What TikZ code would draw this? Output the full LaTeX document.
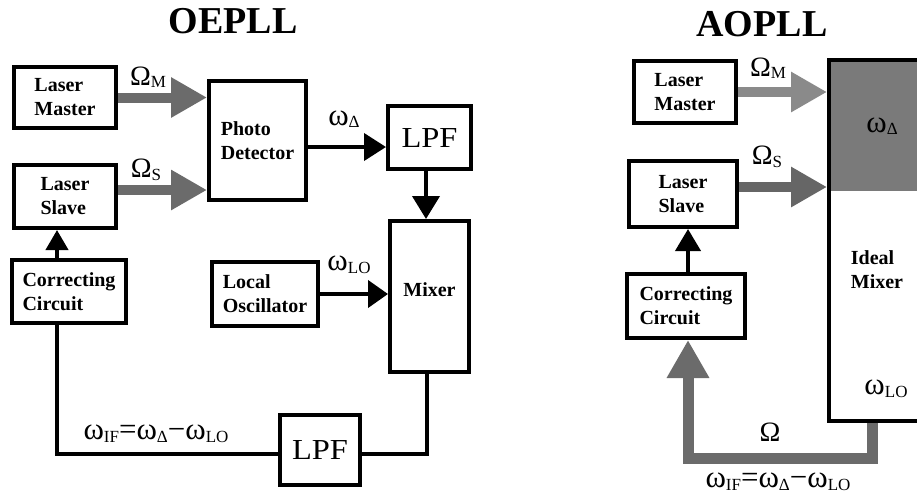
\documentclass[tikz,border=0pt]{standalone}
\usepackage{fontspec}
\setmainfont{Liberation Serif}
\newfontfamily\lpffont[FakeStretch=1.12]{Liberation Serif}
\usetikzlibrary{arrows.meta,positioning,calc,backgrounds}
\definecolor{plgray}{RGB}{107,107,107}
\definecolor{pldark}{RGB}{102,102,102}
\definecolor{pllight}{RGB}{138,138,138}
\definecolor{plfill}{RGB}{122,122,122}
\newcommand{\lsub}[1]{\raisebox{-2.5pt}{\fontsize{17}{17}\selectfont #1}}
\tikzset{
  blk/.style={
    draw=black, line width=4pt, fill=white, align=left, inner sep=0pt,
    font=\bfseries\fontsize{20}{24}\selectfont
  },
  lpf/.style={blk, font=\lpffont\fontsize{29}{29}\selectfont},
  ttl/.style={font=\bfseries\fontsize{38}{38}\selectfont, inner sep=0pt},
  sig/.style={font=\fontsize{28}{28}\selectfont, inner sep=0pt},
  wsig/.style={sig, font=\fontsize{31}{31}\selectfont},
  txt/.style={font=\bfseries\fontsize{20}{24}\selectfont, align=left, inner sep=0pt},
  barr/.style={-{Triangle[length=22pt,width=27pt]}, line width=4pt},
  bline/.style={line width=4pt},
  garr/.style={-{Triangle[length=36pt,width=38pt]}, line width=10pt, draw=plgray},
  gfb/.style={-{Triangle[length=38pt,width=40pt]}, line width=11pt, draw=plgray}
}
\begin{document}
\begin{tikzpicture}[x=1pt,y=-1pt]
  \clip (0,0) rectangle (917,499);
  % OEPLL
  \node[ttl] (t1) at (233,21) {OEPLL};
  \node[blk, minimum width=102pt, minimum height=61pt] (LM) at (65,97.5) {Laser\\Master};
  \node[blk, minimum width=102pt, minimum height=63pt] (LS) at (65,196.5) {Laser\\Slave};
  \node[blk, minimum width=97pt, minimum height=119pt] (PD) at (257.5,140.5) {Photo\\Detector};
  \node[lpf, minimum width=83pt, minimum height=63pt] (F1) at (429.5,137.5) {LPF};
  \node[blk, minimum width=79pt, minimum height=151pt, text depth=13pt] (MX) at (429.5,296.5) {Mixer};
  \node[blk, minimum width=114pt, minimum height=63pt] (CC) at (69,291.5) {Correcting\\Circuit};
  \node[blk, minimum width=106pt, minimum height=64pt] (LO) at (265,294) {Local\\Oscillator};
  \node[lpf, minimum width=80pt, minimum height=70pt] (F2) at (320,450) {LPF};
  \draw[garr] (LM.east) -- (LM.east -| PD.west);
  \draw[garr] ([yshift=6.5pt]LS.east) -- ([yshift=6.5pt]LS.east -| PD.west);
  \draw[barr] ([yshift=-6.5pt]PD.east) -- ([yshift=-6.5pt]PD.east -| F1.west);
  \draw[barr, -{Triangle[length=23pt,width=27pt]}] ([xshift=-3.5pt]F1.south) -- ([xshift=-3.5pt]MX.north);
  \draw[barr, -{Triangle[length=20pt,width=27pt]}] (LO.east) -- (LO.east -| MX.west);
  \draw[bline] ([xshift=-2.5pt]MX.south) |- ([yshift=-3.5pt]F2.east);
  \draw[bline] ([yshift=-3.5pt]F2.west) -| ([xshift=-12pt]CC.south);
  \draw[barr, -{Triangle[length=20pt,width=22pt]}] ([xshift=-12pt]CC.north) -- ([xshift=-12pt]CC.north |- LS.south);
  \node[sig] (oM) at (148,77) {Ω\lsub{M}};
  \node[sig] (oS) at (146,170) {Ω\lsub{S}};
  \node[wsig] (wD) at (344,119) {ω\lsub{Δ}};
  \node[wsig] (wL) at (349,265) {ω\lsub{LO}};
  \node[wsig] (wI) at (156,434) {ω\lsub{IF}=ω\lsub{Δ}−ω\lsub{LO}};
  % AOPLL
  \node[ttl] (t2) at (762,24) {AOPLL};
  \node[blk, minimum width=102pt, minimum height=62pt] (LM2) at (685,92) {Laser\\Master};
  \node[blk, minimum width=108pt, minimum height=66pt] (LS2) at (683,194) {Laser\\Slave};
  \node[blk, minimum width=118pt, minimum height=64pt] (CC2) at (686,306) {Correcting\\Circuit};
  \node[draw=black, line width=4pt, minimum width=136pt, minimum height=361pt] (IM) at (897,240.5) {};
  \begin{scope}[on background layer]
    \fill[white] (0,0) rectangle (917,499);
    \fill[plfill] (IM.north west) rectangle ([yshift=3pt]IM.east |- LS2.east);
  \end{scope}
  \node[wsig] (wD2) at (882,126) {ω\lsub{Δ}};
  \node[txt] (im) at (877,270) {Ideal\\Mixer};
  \node[wsig] (wL2) at (886,389) {ω\lsub{LO}};
  \draw[garr, draw=pllight] (LM2.east) -- (LM2.east -| IM.west);
  \draw[garr, draw=pldark] ([yshift=7pt]LS2.east) -- ([yshift=7pt]LS2.east -| IM.west);
  \draw[barr, -{Triangle[length=22pt,width=25pt]}] ([xshift=2pt]CC2.north) -- ([xshift=2pt]CC2.north |- LS2.south);
  \draw[gfb] ([xshift=-25pt]IM.south) -- ++(0,35) -| ([xshift=2pt]CC2.south);
  \node[sig] (oM2) at (768,68) {Ω\lsub{M}};
  \node[sig] (oS2) at (767,157) {Ω\lsub{S}};
  \node[sig] (oF) at (770,432) {Ω};
  \node[wsig] (wI2) at (778,482) {ω\lsub{IF}=ω\lsub{Δ}−ω\lsub{LO}};
\end{tikzpicture}
\end{document}
